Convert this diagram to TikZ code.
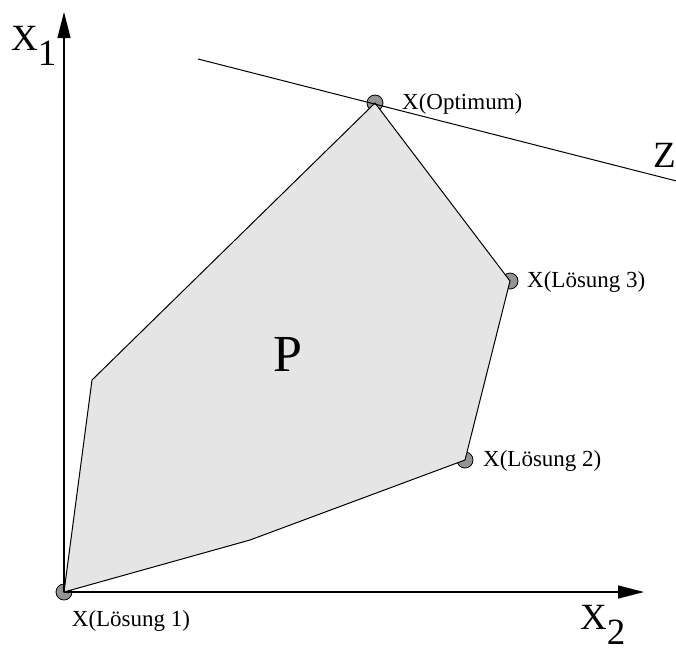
\documentclass[tikz,border=0pt]{standalone}
\usepackage{fontspec}
\setmainfont{Liberation Serif}
\usetikzlibrary{arrows.meta,positioning}
\tikzset{
  punkt/.style={circle, draw=black, fill=black!42, line width=0.8pt, minimum size=16pt, inner sep=0pt},
  polyflaeche/.style={draw=black, fill=black!10, line width=1pt, line join=miter},
  achse/.style={-{Triangle[length=26pt,width=13pt]}, line width=1.3pt},
  zielgerade/.style={line width=1pt},
  punktlabel/.style={font=\fontsize{23}{26}\selectfont, inner sep=0pt},
  achslabel/.style={font=\fontsize{37}{40}\selectfont, inner sep=0pt}
}
\begin{document}
\begin{tikzpicture}[x=1pt, y=-1pt]
    \useasboundingbox (0,0) rectangle (676,653);
    % Ecken des Polyeders
    \node[punkt] (origin) at (64,592) {};
    \node[punkt] (opt) at (375,103) {};
    \node[punkt] (sol3) at (510,281) {};
    \node[punkt] (sol2) at (465,460) {};
    \coordinate (ecka) at (92,380);
    \coordinate (eckb) at (250,540);
    \filldraw[polyflaeche] (origin.center) -- (ecka) -- (opt.center) -- (sol3.center)
      -- (sol2.center) -- (eckb) -- cycle;
    % Zielfunktion
    \coordinate (zanf) at (198,59);
    \coordinate (zend) at (700,187);
    \draw[zielgerade] (zanf) -- (zend);
    % Achsen
    \coordinate (xtip) at (644,592);
    \coordinate (ytip) at (64,12);
    \draw[achse] (origin.center) -- (xtip);
    \draw[achse] (origin.center) -- (ytip);
    % Beschriftungen
    \node[punktlabel, anchor=west] (lopt) at (402,104) {X(Optimum)};
    \node[punktlabel, anchor=west] (lsol3) at (527,282) {X(Lösung 3)};
    \node[punktlabel, anchor=west] (lsol2) at (483,461) {X(Lösung 2)};
    \node[punktlabel] (lsol1) at (131,621) {X(Lösung 1)};
    \node[font=\fontsize{52}{56}\selectfont, inner sep=0pt] (plabel) at (288,354) {P};
    \node[achslabel, anchor=east] (zlabel) at (676,155) {Z};
    \node[achslabel, anchor=west] (x1label) at (11,46) {X\raisebox{-0.42em}{1}};
    \node[achslabel, anchor=west] (x2label) at (580,625) {X\raisebox{-0.42em}{2}};
\end{tikzpicture}
\end{document}
